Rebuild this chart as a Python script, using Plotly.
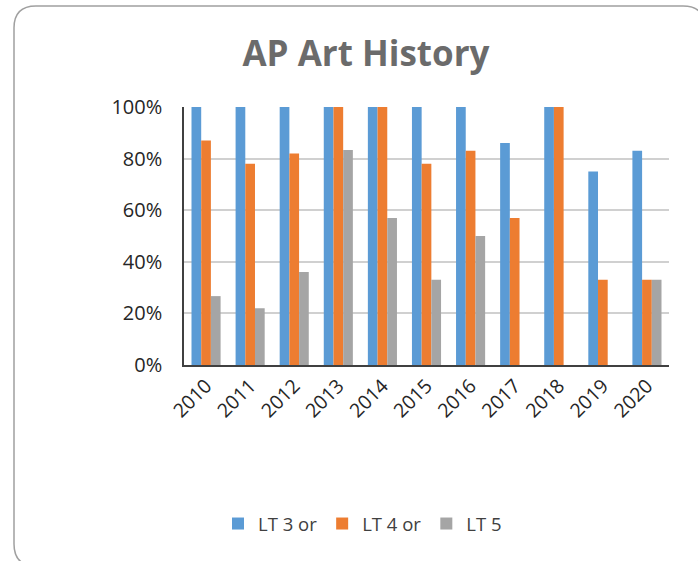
import plotly.graph_objects as go

years = ["2010", "2011", "2012", "2013", "2014", "2015", "2016", "2017", "2018", "2019", "2020"]
lt3 = [100, 100, 100, 100, 100, 100, 100, 86, 100, 75, 83]
lt4 = [87, 78, 82, 100, 100, 78, 83, 57, 100, 33, 33]
lt5 = [26.7, 22, 36, 83.3, 57, 33, 50, 0, 0, 0, 33]
series_names = ["LT 3 or", "LT 4 or", "LT 5"]
colors = ["#5b9bd5", "#ed7d31", "#a5a5a5"]

W, H = 698, 561
L, R, T, B = 184, 29, 107, 196
pw, ph = W - L - R, H - T - B
FONT = "Open Sans, Lato, sans-serif"

fig = go.Figure()
for name, vals, c in zip(series_names, [lt3, lt4, lt5], colors):
    fig.add_trace(go.Bar(x=years, y=[v / 100 for v in vals], name=name, marker_color=c,
                         marker_line_width=0))

def px(x):
    return (x - L) / pw

def py(y):
    return (H - B - y) / ph

# rounded border (partly outside the visible area, as in the reference)
x0, x1, y0, y1, r = 14, 705, 6, 566, 22
path = (f"M {px(x0+r)},{py(y0)} L {px(x1-r)},{py(y0)} Q {px(x1)},{py(y0)} {px(x1)},{py(y0+r)} "
        f"L {px(x1)},{py(y1-r)} Q {px(x1)},{py(y1)} {px(x1-r)},{py(y1)} "
        f"L {px(x0+r)},{py(y1)} Q {px(x0)},{py(y1)} {px(x0)},{py(y1-r)} "
        f"L {px(x0)},{py(y0+r)} Q {px(x0)},{py(y0)} {px(x0+r)},{py(y0)} Z")
fig.add_shape(type="path", path=path, xref="paper", yref="paper",
              line=dict(color="#a0a0a0", width=1.5), layer="below")

fig.update_layout(
    width=W, height=H,
    margin=dict(l=L, r=R, t=T, b=B, autoexpand=False),
    paper_bgcolor="white", plot_bgcolor="white",
    font=dict(family=FONT, size=18, color="#262626"),
    title=dict(text="<b>AP Art History</b>", x=366 / W, xanchor="center",
               y=1 - 54 / H, yanchor="middle",
               font=dict(size=35, color="#6b6b6b", family=FONT)),
    barmode="group", bargap=0.34, bargroupgap=0,
    showlegend=True,
    legend=dict(orientation="h", x=px(218), xanchor="left", y=py(524), yanchor="middle",
                font=dict(size=18.5, color="#404040"), itemwidth=30, traceorder="normal",
                tracegroupgap=0),
    xaxis=dict(tickangle=-45, showline=True, linecolor="#404040", linewidth=1.5,
               ticks="", automargin=False, tickfont=dict(size=19.5, color="#262626")),
    yaxis=dict(range=[0, 1], tickformat=".0%", dtick=0.2, showgrid=True,
               gridcolor="#d0d0d0", gridwidth=1.5, showline=True, linecolor="#404040",
               linewidth=1.5, zeroline=False, ticks="", automargin=False,
               ticklabelstandoff=16,
               tickfont=dict(size=20, color="#262626")),
)

fig.write_html("out.html", config={"displayModeBar": False},
               post_script="document.body.style.margin='0';document.body.style.overflow='hidden';")
